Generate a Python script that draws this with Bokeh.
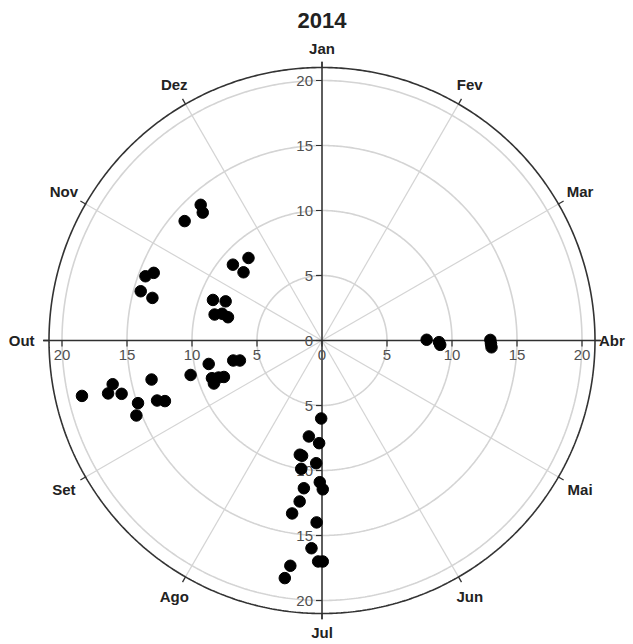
import numpy as np
from bokeh.plotting import figure
from bokeh.models import Range1d
from bokeh.core.properties import value
from bokeh.embed import file_html
from bokeh.resources import INLINE

title_text = "2014"
months = ["Jan", "Fev", "Mar", "Abr", "Mai", "Jun", "Jul", "Ago", "Set", "Out", "Nov", "Dez"]
ring_values = [5, 10, 15, 20]
tick_values = [5, 10, 15, 20]
outer_r = 21

# angle (degrees, clockwise from Jan at top) and radius of each point
theta_deg = [318.2, 317.0, 311.0, 318.3, 310.4, 311.0,
             291.9, 290.0, 285.2, 284.1, 290.4, 292.1, 283.6, 285.0, 283.9,
             257.0, 258.2, 256.1, 255.1, 257.1, 251.2, 248.0, 250.0, 248.9,
             258.3, 255.3, 257.3, 256.3, 251.1, 248.3, 250.3, 249.6,
             180.6, 187.8, 181.6, 191.0, 189.8, 182.7, 189.2, 180.9, 179.7,
             187.0, 187.9, 189.8, 181.7, 182.9, 181.0, 179.8, 188.0, 188.9,
             89.6, 90.8, 92.1, 89.8, 91.1, 92.3]
radius = [14.0, 13.45, 14.0, 8.5, 9.0, 8.0,
          13.95, 14.45, 14.45, 13.45, 8.95, 8.0, 8.5, 7.95, 7.45,
          18.95, 16.45, 16.95, 15.95, 13.45, 14.95, 15.4, 13.5, 12.95,
          8.9, 10.45, 7.0, 6.5, 8.95, 8.95, 8.45, 8.05,
          6.0, 7.45, 7.9, 8.95, 9.0, 9.45, 10.0, 10.9, 11.45,
          11.45, 12.5, 13.5, 14.0, 16.0, 17.0, 17.0, 17.5, 18.5,
          8.05, 9.0, 9.1, 12.95, 13.0, 13.05]

W, H = 630, 642
S = 13.0           # pixels per unit
cx, cy = 321.5, 340.0
px = 1.0 / S

p = figure(width=W, height=H, output_backend="svg", toolbar_location=None,
           x_range=Range1d(-cx / S, (W - cx) / S),
           y_range=Range1d(-(H - cy) / S, cy / S),
           x_axis_type=None, y_axis_type=None, min_border=0)
p.outline_line_color = None
p.grid.visible = False

FONT = value("Liberation Sans")

# month spokes
ang = np.radians(np.arange(12) * 30.0)
for a in ang:
    p.line([0, outer_r * np.sin(a)], [0, outer_r * np.cos(a)],
           line_color="#d4d4d4", line_width=1.2)

# rings
t = np.linspace(0, 2 * np.pi, 721)
for rv in ring_values:
    p.line(rv * np.sin(t), rv * np.cos(t), line_color="#d4d4d4", line_width=1.6)
p.line(outer_r * np.sin(t), outer_r * np.cos(t), line_color="#333333", line_width=1.6)

# month ticks on outer ring
for a in ang:
    p.line([outer_r * np.sin(a), (outer_r + 6 * px) * np.sin(a)],
           [outer_r * np.cos(a), (outer_r + 6 * px) * np.cos(a)],
           line_color="#333333", line_width=1.3)

# main axes
ax_len = outer_r + 5.5 * px
p.line([-ax_len, ax_len], [0, 0], line_color="#303030", line_width=1.5)
p.line([0, 0], [-ax_len, ax_len], line_color="#303030", line_width=1.5)

# axis ticks and labels
tk = 6 * px
for v in [0] + tick_values:
    for sgn in ([1] if v == 0 else [1, -1]):
        p.line([-tk, 0], [sgn * v, sgn * v], line_color="#303030", line_width=1.2)
        p.line([sgn * v, sgn * v], [0, -tk], line_color="#303030", line_width=1.2)
vlab_y = [0] + tick_values + [-v for v in tick_values]
vlab_t = [str(abs(v)) for v in vlab_y]
p.text(x=[-9 * px] * len(vlab_y), y=vlab_y, text=vlab_t, text_align="right",
       text_baseline="middle", text_font=FONT, text_font_size="15px",
       text_color="#505050")
hlab_x = [0] + tick_values + [-v for v in tick_values]
hlab_t = [str(abs(v)) for v in hlab_x]
p.text(x=hlab_x, y=[-9 * px] * len(hlab_x), text=hlab_t, text_align="center",
       text_baseline="top", text_font=FONT, text_font_size="15px",
       text_color="#505050")

# month labels
rl = 22.45 + 0.55 * np.abs(np.sin(ang))
rl[3] = 22.3   # Abr
rl[9] = 23.1   # Out
p.text(x=rl * np.sin(ang), y=rl * np.cos(ang), text=months, text_align="center",
       text_baseline="middle", text_font=FONT, text_font_size="15px",
       text_font_style="bold", text_color="#222222")

# data points
th = np.radians(np.array(theta_deg))
rr = np.array(radius)
p.scatter(rr * np.sin(th), rr * np.cos(th), size=11.5, fill_color="black",
          line_color="black")

# title
p.text(x=[0], y=[(cy - 20) / S], text=[title_text], text_align="center",
       text_baseline="middle", text_font=FONT, text_font_size="22px",
       text_font_style="bold", text_color="#222222")

open("out.html", "w").write(file_html(p, INLINE))
